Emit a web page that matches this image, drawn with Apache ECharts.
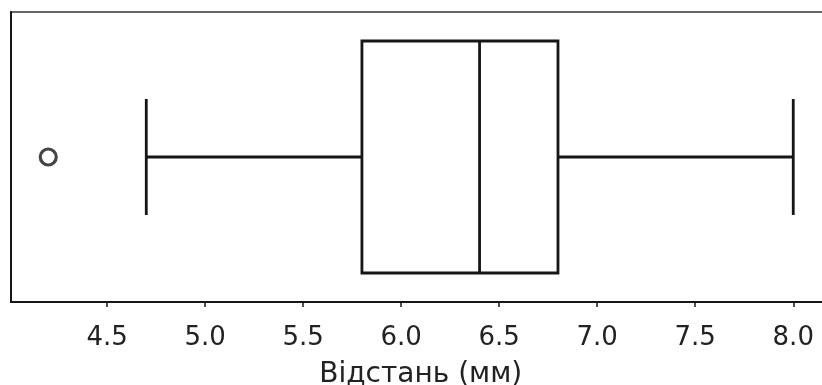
<!DOCTYPE html>
<html>
<head>
<meta charset="utf-8">
<script src="https://cdn.jsdelivr.net/npm/echarts@6/dist/echarts.min.js"></script>
<style>
  html, body { margin: 0; padding: 0; background: #fff; }
  #chart { width: 822px; height: 385px; }
</style>
</head>
<body>
<div id="chart"></div>
<script>
// Five-number summary of the distance measurements (mm)
const categories = ['Відстань'];
const whiskerLow = [4.7];
const quartile1 = [5.8];
const medians = [6.4];
const quartile3 = [6.8];
const whiskerHigh = [8.0];
const outliers = [4.2];
const tickValues = [4.5, 5.0, 5.5, 6.0, 6.5, 7.0, 7.5, 8.0];
const axisTitle = 'Відстань (мм)';

const boxData = categories.map((c, i) => [i, whiskerLow[i], quartile1[i], medians[i], quartile3[i], whiskerHigh[i]]);
const outlierData = outliers.map(v => [v, 0]);

const ink = '#161616';
const font = 'DejaVu Sans';

function renderBox(params, api) {
  const cat = api.value(0);
  const lo = api.coord([api.value(1), cat]);
  const q1 = api.coord([api.value(2), cat]);
  const md = api.coord([api.value(3), cat]);
  const q3 = api.coord([api.value(4), cat]);
  const hi = api.coord([api.value(5), cat]);
  const band = api.size([0, 1])[1];
  const boxHalf = band * 0.4;
  const capHalf = band * 0.2;
  const cy = lo[1];
  const style = { stroke: ink, lineWidth: 2.8, fill: null };
  const line = (x1, y1, x2, y2) => ({ type: 'line', shape: { x1, y1, x2, y2 }, style });
  return {
    type: 'group',
    children: [
      line(lo[0], cy, q1[0], cy),
      line(q3[0], cy, hi[0], cy),
      line(lo[0], cy - capHalf, lo[0], cy + capHalf),
      line(hi[0], cy - capHalf, hi[0], cy + capHalf),
      { type: 'rect', shape: { x: q1[0], y: cy - boxHalf, width: q3[0] - q1[0], height: boxHalf * 2 }, style: { stroke: ink, lineWidth: 2.8, fill: '#fff' } },
      line(md[0], cy - boxHalf, md[0], cy + boxHalf)
    ]
  };
}

const chart = echarts.init(document.getElementById('chart'));
chart.setOption({
  animation: false,
  backgroundColor: '#fff',
  grid: {
    left: 11, top: 12, width: 819.5, height: 290,
    outerBoundsMode: 'none',
    containLabel: false,
    show: true, borderColor: '#666', borderWidth: 2, backgroundColor: 'transparent'
  },
  xAxis: {
    type: 'value',
    min: 4.01,
    max: 8.19,
    splitLine: { show: false },
    axisLine: { show: true, lineStyle: { color: ink, width: 2 } },
    axisTick: { show: true, customValues: tickValues, length: 5, lineStyle: { color: ink, width: 1.5 } },
    axisLabel: {
      customValues: tickValues,
      formatter: v => v.toFixed(1),
      margin: 23,
      color: '#222',
      fontFamily: font,
      fontSize: 26
    },
    name: axisTitle,
    nameLocation: 'middle',
    nameGap: 59,
    nameTextStyle: { color: '#222', fontFamily: font, fontSize: 28 }
  },
  yAxis: {
    type: 'category',
    data: categories,
    axisLine: { show: true, lineStyle: { color: ink, width: 2 } },
    axisTick: { show: false },
    axisLabel: { show: false },
    splitLine: { show: false }
  },
  series: [
    {
      type: 'custom',
      renderItem: renderBox,
      data: boxData,
      encode: { y: 0, x: [1, 2, 3, 4, 5] },
      z: 3
    },
    {
      type: 'scatter',
      data: outlierData,
      symbol: 'circle',
      symbolSize: 16,
      itemStyle: { color: 'rgba(255,255,255,0)', borderColor: ink, borderWidth: 3.2 },
      z: 4
    }
  ]
});
</script>
</body>
</html>
